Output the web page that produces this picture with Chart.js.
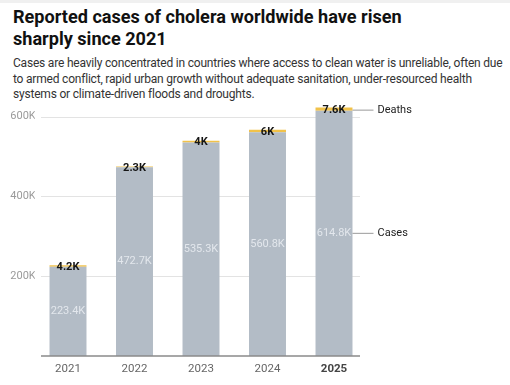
<!DOCTYPE html>
<html><head><meta charset="utf-8">
<script src="https://cdn.jsdelivr.net/npm/chart.js@4"></script>
<style>
html,body{margin:0;padding:0;background:#fff;width:510px;height:385px;overflow:hidden;font-family:Roboto,"Noto Sans",sans-serif;}
#top{position:absolute;left:0;top:0;width:510px;height:3px;background:#f0f0f0;}
h1{position:absolute;left:13px;top:6px;margin:0;font-size:18.1px;line-height:22px;font-weight:700;color:#111;width:495px;white-space:nowrap;}
p{position:absolute;left:13px;top:56px;margin:0;font-size:12px;letter-spacing:-0.2px;line-height:15.5px;color:#333;width:497px;white-space:nowrap;}
#wrap{position:absolute;left:0;top:95px;width:510px;height:290px;}
</style></head><body>
<div id="top"></div>
<h1>Reported cases of cholera worldwide have risen<br>sharply since 2021</h1>
<p>Cases are heavily concentrated in countries where access to clean water is unreliable, often due<br>to armed conflict, rapid urban growth without adequate sanitation, under-resourced health<br>systems or climate-driven floods and droughts.</p>
<div id="wrap"><canvas id="c" width="510" height="290"></canvas></div>
<script>
const years = ["2021","2022","2023","2024","2025"];
const cases = [223.4, 472.7, 535.3, 560.8, 614.8];   // thousands
const deaths = [4.2, 2.3, 4.0, 6.0, 7.6];           // thousands
const caseLabels = ["223.4K","472.7K","535.3K","560.8K","614.8K"];
const deathLabels = ["4.2K","2.3K","4K","6K","7.6K"];
const yTicks = [200, 400, 600];

const FONT = 'Roboto, "Noto Sans", sans-serif';
const overlay = {
  id:'overlay',
  beforeDatasetsDraw(chart){
    const ctx = chart.ctx, y = chart.scales.y;
    ctx.save();
    ctx.strokeStyle = '#e3e3e3'; ctx.lineWidth = 1;
    yTicks.forEach(v=>{
      const py = Math.round(y.getPixelForValue(v))+0.5;
      ctx.beginPath(); ctx.moveTo(41,py); ctx.lineTo(360,py); ctx.stroke();
    });
    ctx.restore();
  },
  afterDatasetsDraw(chart){
    const ctx = chart.ctx, y = chart.scales.y;
    ctx.save();
    ctx.strokeStyle = '#8a8a8a'; ctx.lineWidth = 1.5;
    const by = y.getPixelForValue(0);
    ctx.beginPath(); ctx.moveTo(41,by); ctx.lineTo(360,by); ctx.stroke();
    const m0 = chart.getDatasetMeta(0).data, m1 = chart.getDatasetMeta(1).data;
    ctx.textAlign = 'center'; ctx.textBaseline = 'middle';
    m0.forEach((b,i)=>{
      ctx.font = '11px ' + FONT; ctx.fillStyle = 'rgba(235,239,243,0.85)';
      ctx.fillText(caseLabels[i], b.x, (b.y + b.base)/2);
    });
    m1.forEach((b,i)=>{
      ctx.font = 'bold 11px ' + FONT; ctx.fillStyle = '#151515';
      ctx.fillText(deathLabels[i], b.x, (b.y + b.base)/2 + 1);
    });
    const lb = m0[m0.length-1], ld = m1[m1.length-1];
    const x0 = lb.x + lb.width/2, x1 = x0 + 21;
    const yc = (lb.y + lb.base)/2, yd = (ld.y + ld.base)/2 + 1;
    ctx.strokeStyle = '#9a9a9a'; ctx.lineWidth = 1;
    [[yd,'Deaths'],[yc,'Cases']].forEach(([yy,t])=>{
      ctx.beginPath(); ctx.moveTo(x0,yy); ctx.lineTo(x1,yy); ctx.stroke();
      ctx.font = '11px ' + FONT; ctx.fillStyle = '#222'; ctx.textAlign = 'left';
      ctx.fillText(t, x1+4, yy);
    });
    ctx.restore();
  }
};

new Chart(document.getElementById('c'), {
  type:'bar',
  data:{labels:years, datasets:[
    {label:'Cases', data:cases, backgroundColor:'#b3bcc6', categoryPercentage:1, barPercentage:0.556, borderWidth:0},
    {label:'Deaths', data:deaths, backgroundColor:'#f1c24a', categoryPercentage:1, barPercentage:0.556, borderWidth:0}
  ]},
  options:{
    responsive:false, animation:false, devicePixelRatio:1,
    layout:{padding:{left:0,right:142.75,top:5,bottom:0}},
    plugins:{legend:{display:false}, tooltip:{enabled:false}},
    scales:{
      x:{stacked:true, grid:{display:false, drawTicks:false}, border:{display:false},
         afterFit(s){ s.height = 29; },
         ticks:{padding:6, color:(c)=>c.index===4?'#444':'#666',
           font:(c)=>({family:FONT, size:11.5, weight:c.index===4?'bold':'normal'})}},
      y:{stacked:true, min:0, max:640, grid:{display:false, drawTicks:false}, border:{display:false},
         afterFit(s){ s.width = 34.75; },
         afterBuildTicks(s){ s.ticks = yTicks.map(v=>({value:v})); },
         ticks:{padding:-1, color:'#9a9a9a', font:{family:FONT, size:11},
           callback:(v)=>v+'K'}}
    }
  },
  plugins:[overlay]
});
</script>
</body></html>
